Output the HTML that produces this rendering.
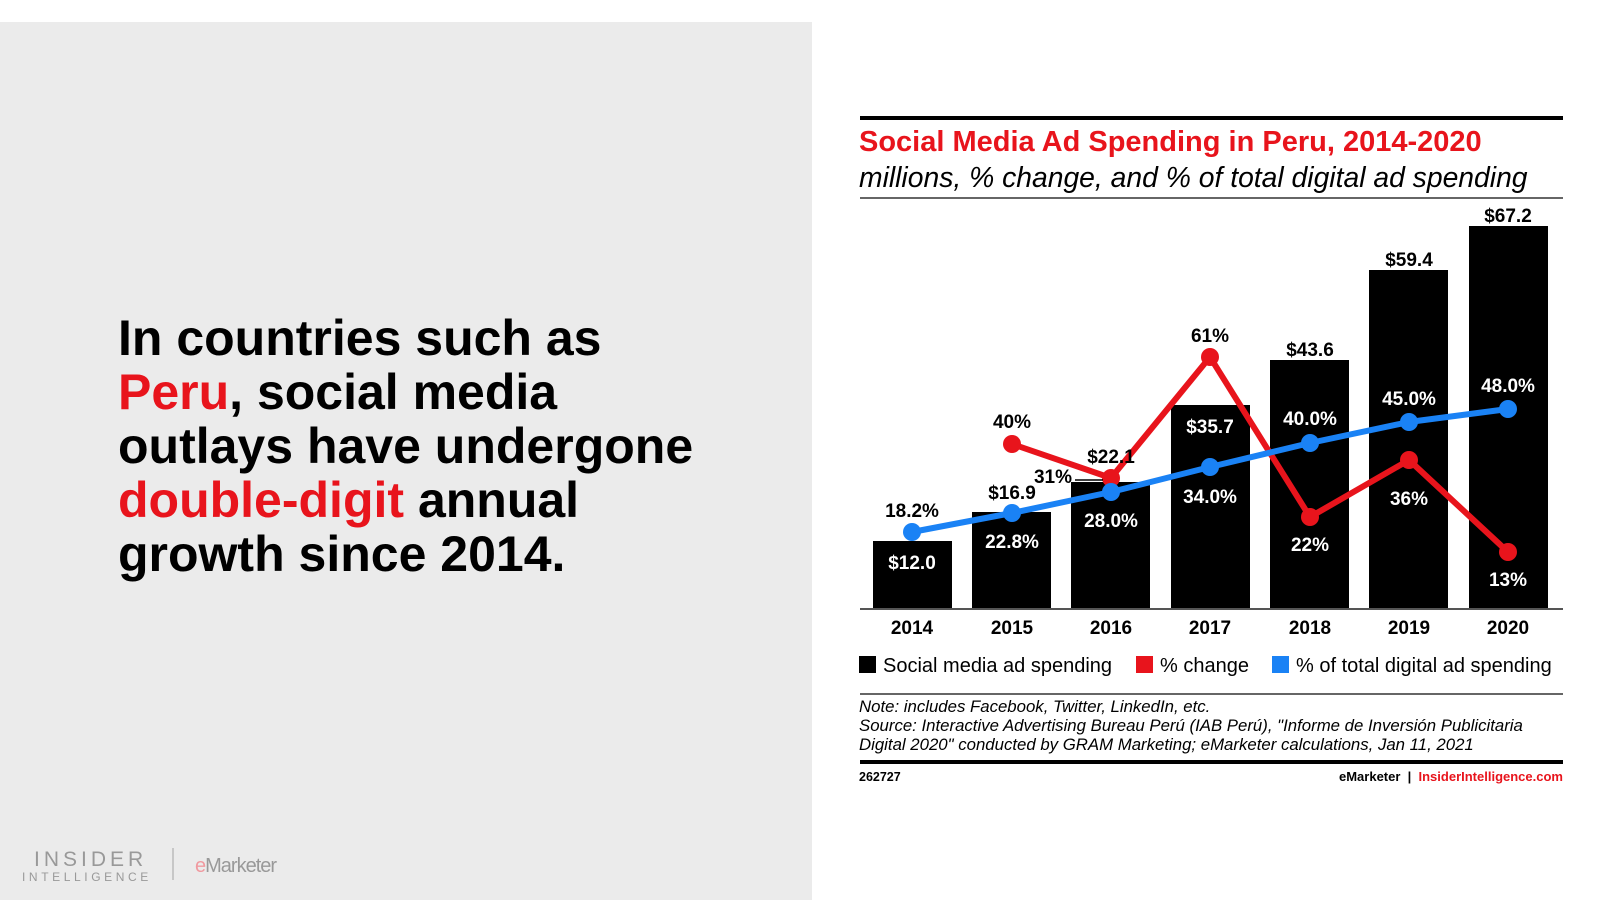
<!DOCTYPE html>
<html><head><meta charset="utf-8"><style>
body{margin:0;width:1600px;height:900px;background:#fff;overflow:hidden;font-family:"Liberation Sans",Arial,sans-serif;}
</style></head><body>
<svg width="1600" height="900" viewBox="0 0 1600 900" xmlns="http://www.w3.org/2000/svg" font-family="Liberation Sans, Arial, sans-serif">
<rect x="0" y="22" width="812" height="878" fill="#ebebeb"/>
<g font-size="50" font-weight="bold" fill="#000">
<text x="118" y="355">In countries such as</text>
<text x="118" y="409"><tspan fill="#e8141c">Peru</tspan>, social media</text>
<text x="118" y="463">outlays have undergone</text>
<text x="118" y="517"><tspan fill="#e8141c">double-digit</tspan> annual</text>
<text x="118" y="571">growth since 2014.</text>
</g>
<text x="34" y="866" font-size="21" fill="#999" letter-spacing="4">INSIDER</text>
<text x="22" y="881" font-size="12" fill="#999" letter-spacing="3.6">INTELLIGENCE</text>
<line x1="173" y1="848" x2="173" y2="880" stroke="#bbb" stroke-width="1.5"/>
<text x="195" y="872" font-size="20" fill="#999" letter-spacing="-1"><tspan fill="#f09aa0">e</tspan>Marketer</text>

<line x1="860" y1="118" x2="1563" y2="118" stroke="#000" stroke-width="4"/>
<text x="859" y="151" font-size="29" font-weight="bold" fill="#e8141c">Social Media Ad Spending in Peru, 2014-2020</text>
<text x="859" y="187" font-size="28.3" font-style="italic" fill="#000">millions, % change, and % of total digital ad spending</text>
<line x1="860" y1="198" x2="1563" y2="198" stroke="#333" stroke-width="1.5"/>

<g fill="#000">
<rect x="873" y="541" width="79" height="68"/>
<rect x="972" y="512" width="79" height="97"/>
<rect x="1071" y="482" width="79" height="127"/>
<rect x="1171" y="405" width="79" height="204"/>
<rect x="1270" y="360" width="79" height="249"/>
<rect x="1369" y="270" width="79" height="339"/>
<rect x="1469" y="226" width="79" height="383"/>
</g>
<line x1="860" y1="609" x2="1563" y2="609" stroke="#555" stroke-width="2"/>

<polyline points="1012,444 1111,478 1210,357 1310,517 1409,460 1508,552" fill="none" stroke="#e8141c" stroke-width="6" stroke-linejoin="round"/>
<g fill="#e8141c"><circle cx="1012" cy="444" r="9"/><circle cx="1111" cy="478" r="9"/><circle cx="1210" cy="357" r="9"/><circle cx="1310" cy="517" r="9"/><circle cx="1409" cy="460" r="9"/><circle cx="1508" cy="552" r="9"/></g>
<polyline points="912,532 1012,513 1111,492 1210,467 1310,443 1409,422 1508,409" fill="none" stroke="#1a82f5" stroke-width="6" stroke-linejoin="round"/>
<g fill="#1a82f5"><circle cx="912" cy="532" r="9"/><circle cx="1012" cy="513" r="9"/><circle cx="1111" cy="492" r="9"/><circle cx="1210" cy="467" r="9"/><circle cx="1310" cy="443" r="9"/><circle cx="1409" cy="422" r="9"/><circle cx="1508" cy="409" r="9"/></g>
<line x1="1075" y1="480" x2="1103" y2="480" stroke="#000" stroke-width="1.5"/>

<g font-size="19" font-weight="bold" text-anchor="middle">
<g fill="#000">
<text x="1012" y="499">$16.9</text>
<text x="1111" y="463">$22.1</text>
<text x="1310" y="356">$43.6</text>
<text x="1409" y="266">$59.4</text>
<text x="1508" y="222">$67.2</text>
<text x="912" y="517">18.2%</text>
<text x="1012" y="428">40%</text>
<text x="1210" y="342">61%</text>
<text x="1053" y="483">31%</text>
</g>
<g fill="#fff">
<text x="912" y="569">$12.0</text>
<text x="1210" y="433">$35.7</text>
<text x="1012" y="548">22.8%</text>
<text x="1111" y="527">28.0%</text>
<text x="1210" y="503">34.0%</text>
<text x="1310" y="425">40.0%</text>
<text x="1409" y="405">45.0%</text>
<text x="1508" y="392">48.0%</text>
<text x="1310" y="551">22%</text>
<text x="1409" y="505">36%</text>
<text x="1508" y="586">13%</text>
</g>
<g fill="#000">
<text x="912" y="634">2014</text><text x="1012" y="634">2015</text><text x="1111" y="634">2016</text><text x="1210" y="634">2017</text><text x="1310" y="634">2018</text><text x="1409" y="634">2019</text><text x="1508" y="634">2020</text>
</g>
</g>

<g font-size="20" fill="#000">
<rect x="859" y="656" width="17" height="17" fill="#000"/><text x="883" y="672">Social media ad spending</text>
<rect x="1136" y="656" width="17" height="17" fill="#e8141c"/><text x="1160" y="672">% change</text>
<rect x="1272" y="656" width="17" height="17" fill="#1a82f5"/><text x="1296" y="672">% of total digital ad spending</text>
</g>
<line x1="860" y1="694" x2="1563" y2="694" stroke="#333" stroke-width="1.5"/>
<g font-size="16.8" font-style="italic" fill="#000">
<text x="859" y="712">Note: includes Facebook, Twitter, LinkedIn, etc.</text>
<text x="859" y="731">Source: Interactive Advertising Bureau Perú (IAB Perú), "Informe de Inversión Publicitaria</text>
<text x="859" y="750">Digital 2020" conducted by GRAM Marketing; eMarketer calculations, Jan 11, 2021</text>
</g>
<line x1="860" y1="762" x2="1563" y2="762" stroke="#000" stroke-width="4"/>
<text x="859" y="781" font-size="12.5" font-weight="bold" fill="#000">262727</text>
<text x="1563" y="781" font-size="13" font-weight="bold" text-anchor="end" fill="#000" xml:space="preserve">eMarketer  |  <tspan fill="#e8141c">InsiderIntelligence.com</tspan></text>
</svg>
</body></html>
